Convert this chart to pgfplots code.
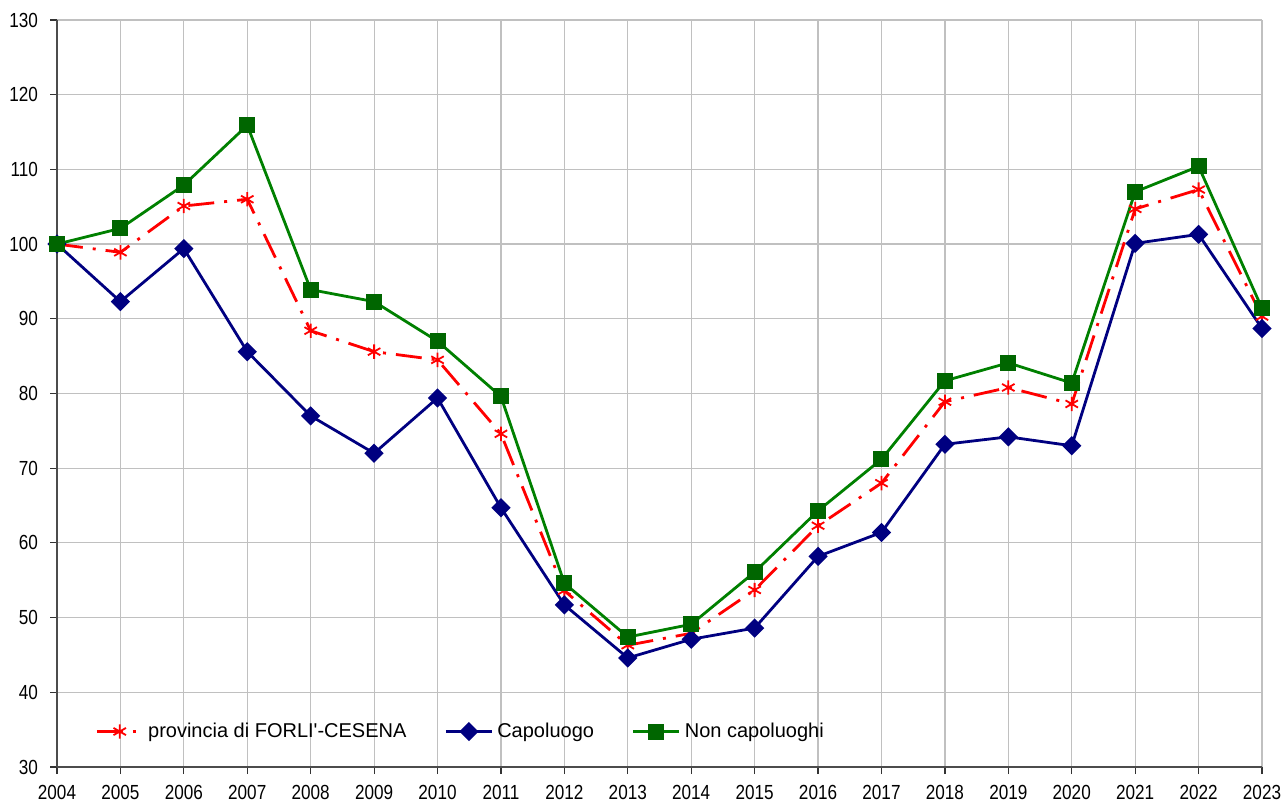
\documentclass[border=0pt]{standalone}
\usepackage{fontspec}
\setmainfont{Liberation Sans}
\newfontfamily\plainfont{Liberation Sans}
\newfontfamily\tickfont[FakeStretch=0.84]{Liberation Sans}
\usepackage{pgfplots}
\pgfplotsset{compat=1.18}
\definecolor{cred}{HTML}{FF0000}
\definecolor{cblue}{HTML}{000080}
\definecolor{cgreen}{HTML}{008000}
\definecolor{cgreend}{HTML}{006600}
\definecolor{gridc}{HTML}{C0C0C0}
\begin{document}
\begin{tikzpicture}
\begin{axis}[
  scale only axis, width=602.5pt, height=373.5pt,
  xmin=2004, xmax=2023, ymin=30, ymax=130,
  xtick={2004,2005,...,2023}, ytick={30,40,...,130},
  minor x tick num=1,
  xmajorgrids, xminorgrids, ymajorgrids,
  major grid style={gridc, line width=0.6pt},
  minor grid style={gridc, line width=0.6pt},
  axis x line*=bottom, axis y line*=left,
  axis line style={black!70, line width=0.7pt},
  tick align=outside, major tick length=3.5pt, minor tick length=0pt,
  tick style={black!80, line width=0.6pt},
  /pgf/number format/assume math mode=true,
  ticklabel style={font=\tickfont\fontsize{10.2}{12}\selectfont},
  x tick label style={/pgf/number format/1000 sep={}, /tikz/yshift=-2.2pt},
  y tick label style={/tikz/xshift=-2.5pt},
  clip=false,
  legend columns=3,
  legend style={at={(0.0315,0.0475)}, anchor=west, draw=none, fill=none,
    inner sep=0pt, font=\plainfont\fontsize{10}{12}\selectfont,
    /tikz/every even column/.append style={column sep=17pt}},
  legend image code/.code={\draw[mark repeat=2,mark phase=2] plot coordinates {(0pt,0pt)(11.5pt,0pt)(23pt,0pt)};},
]
\addplot[cred, line width=1.4pt, dash pattern=on 13pt off 5pt on 1.5pt off 5pt,
  mark=asterisk, mark size=3.6pt, mark options={solid, line width=0.9pt}]
  coordinates {
  (2004,100) (2005,98.9) (2006,105.1) (2007,106.0) (2008,88.4) (2009,85.6)
  (2010,84.5) (2011,74.6) (2012,53.6) (2013,46.3) (2014,47.9) (2015,53.7)
  (2016,62.3) (2017,68.0) (2018,78.9) (2019,80.8) (2020,78.6) (2021,104.7)
  (2022,107.3) (2023,90.3)};
\addlegendentry{provincia di FORLI'-CESENA}
\addplot[cblue, line width=1.4pt, mark=square*, mark size=2.7pt,
  mark options={rotate=45, fill=cblue}]
  coordinates {
  (2004,100) (2005,92.3) (2006,99.4) (2007,85.6) (2008,77.0) (2009,72.0)
  (2010,79.4) (2011,64.7) (2012,51.7) (2013,44.6) (2014,47.1) (2015,48.6)
  (2016,58.2) (2017,61.4) (2018,73.2) (2019,74.2) (2020,73.0) (2021,100.1)
  (2022,101.3) (2023,88.7)};
\addlegendentry{Capoluogo}
\addplot[cgreen, line width=1.4pt, mark=square*, mark size=3.3pt,
  mark options={fill=cgreend, draw=cgreend}]
  coordinates {
  (2004,100) (2005,102.1) (2006,107.9) (2007,115.9) (2008,93.9) (2009,92.3)
  (2010,87.0) (2011,79.6) (2012,54.6) (2013,47.4) (2014,49.1) (2015,56.1)
  (2016,64.3) (2017,71.2) (2018,81.7) (2019,84.1) (2020,81.4) (2021,107.0)
  (2022,110.4) (2023,91.4)};
\addlegendentry{Non capoluoghi}
\end{axis}
\pgfresetboundingbox
\path ([xshift=-28.5pt,yshift=-17.5pt]current axis.south west) rectangle ([xshift=10pt,yshift=10pt]current axis.north east);
\end{tikzpicture}
\end{document}
